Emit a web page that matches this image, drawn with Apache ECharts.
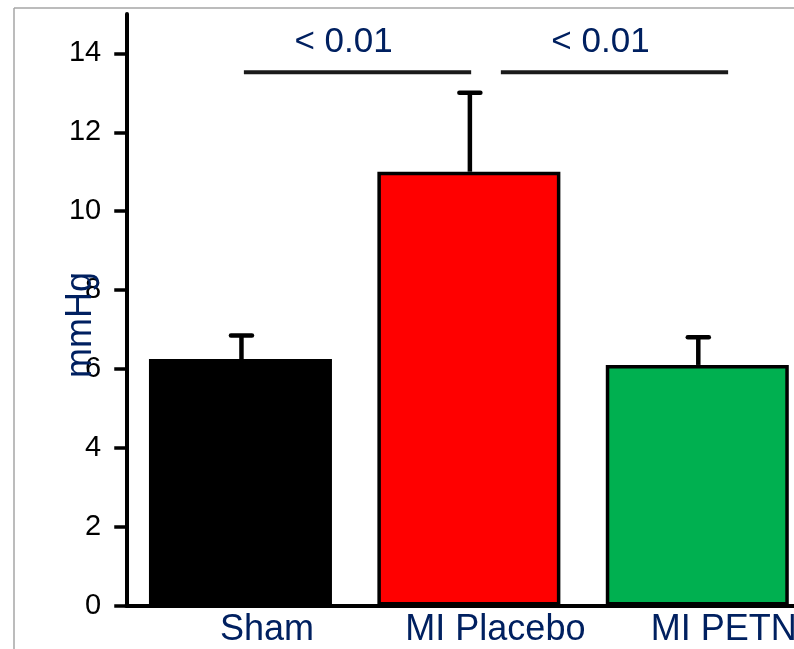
<!DOCTYPE html>
<html>
<head>
<meta charset="utf-8">
<script src="https://cdn.jsdelivr.net/npm/echarts@6/dist/echarts.min.js"></script>
<style>html,body{margin:0;padding:0;background:#fff;}#c{width:794px;height:649px;}</style>
</head>
<body>
<div id="c"></div>
<script>
// ---- data ----
const categories = ['Sham', 'MI Placebo', 'MI PETN'];
const means = [6.25, 11.0, 6.1];
const upperErr = [6.85, 13.0, 6.8];
const barColors = ['#000000', '#FF0000', '#00B050'];
const yTicks = [0, 2, 4, 6, 8, 10, 12, 14];
const yMax = 15;
const sigPairs = [[0, 1], [1, 2]];
const sigLevel = 13.52;
const sigLabels = ['< 0.01', '< 0.01'];
const yName = 'mmHg';

// ---- style constants ----
const navy = '#002060';
const sigShift = [0.015, 0.14];

const chart = echarts.init(document.getElementById('c'), null, {renderer: 'canvas'});

const option = {
  animation: false,
  backgroundColor: '#ffffff',
  grid: {left: 126.25, right: -17.5, top: 14, bottom: 43.5, outerBoundsMode: 'none', containLabel: false},
  xAxis: {
    type: 'category',
    data: categories,
    axisLine: {lineStyle: {color: '#000', width: 4}},
    axisTick: {show: false},
    axisLabel: {
      color: navy, fontFamily: 'Liberation Sans', fontSize: 36, margin: 7,
      padding: [0, 0, 0, 53], interval: 0, hideOverlap: false
    },
    splitLine: {show: false}
  },
  yAxis: {
    type: 'value', min: 0, max: yMax,
    axisLine: {show: true, lineStyle: {color: '#000', width: 4}},
    axisTick: {show: true, inside: false, length: 12, customValues: yTicks, lineStyle: {color: '#000', width: 3.5}},
    axisLabel: {color: '#000', fontFamily: 'Liberation Sans', fontSize: 29, margin: 25, customValues: yTicks},
    splitLine: {show: false}
  },
  series: [
    {
      type: 'bar',
      barWidth: 183,
      data: means.map((v, i) => ({value: v, itemStyle: {color: barColors[i]}})),
      itemStyle: {borderColor: '#000', borderWidth: 3.5},
      z: 2
    },
    {
      type: 'custom',
      z: 3,
      data: categories.map((c, i) => [i, means[i], upperErr[i]]),
      renderItem: function (params, api) {
        const p0 = api.coord([api.value(0), api.value(1)]);
        const p1 = api.coord([api.value(0), api.value(2)]);
        const x = p0[0] + 1;
        return {
          type: 'group',
          children: [
            {type: 'line', shape: {x1: x, y1: p0[1], x2: x, y2: p1[1]}, style: {stroke: '#000', lineWidth: 4.5}},
            {type: 'line', shape: {x1: x - 10.5, y1: p1[1], x2: x + 10.5, y2: p1[1]}, style: {stroke: '#000', lineWidth: 4.5, lineCap: 'round'}}
          ]
        };
      }
    },
    {
      type: 'custom',
      z: 4,
      data: sigPairs.map((p) => [p[0], p[1], sigLevel]),
      renderItem: function (params, api) {
        const bw = api.size([1, 0])[0];
        const pa = api.coord([api.value(0), api.value(2)]);
        const pb = api.coord([api.value(1), api.value(2)]);
        const x1 = pa[0] + sigShift[params.dataIndex] * bw;
        const x2 = pb[0] + sigShift[params.dataIndex] * bw - 0.005 * bw;
        const y = pa[1];
        return {
          type: 'group',
          children: [
            {type: 'line', shape: {x1: x1, y1: y, x2: x2, y2: y}, style: {stroke: '#1a1a1a', lineWidth: 4}},
            {type: 'text', x: (x1 + x2) / 2 - 14, y: y - 30,
              style: {text: sigLabels[params.dataIndex], fill: navy, font: '35px "Liberation Sans"', align: 'center', verticalAlign: 'middle'}}
          ]
        };
      }
    }
  ],
  graphic: [
    {type: 'line', shape: {x1: 14, y1: 8, x2: 794, y2: 8}, style: {stroke: '#a6a6a6', lineWidth: 1.5}, silent: true},
    {type: 'line', shape: {x1: 14, y1: 8, x2: 14, y2: 649}, style: {stroke: '#a6a6a6', lineWidth: 1.5}, silent: true},
    {type: 'text', x: 81, y: 325, rotation: Math.PI / 2, z: 10,
      style: {text: yName, fill: navy, font: '36px "Liberation Sans"', align: 'center', verticalAlign: 'middle'}}
  ]
};
chart.setOption(option);
</script>
</body>
</html>
